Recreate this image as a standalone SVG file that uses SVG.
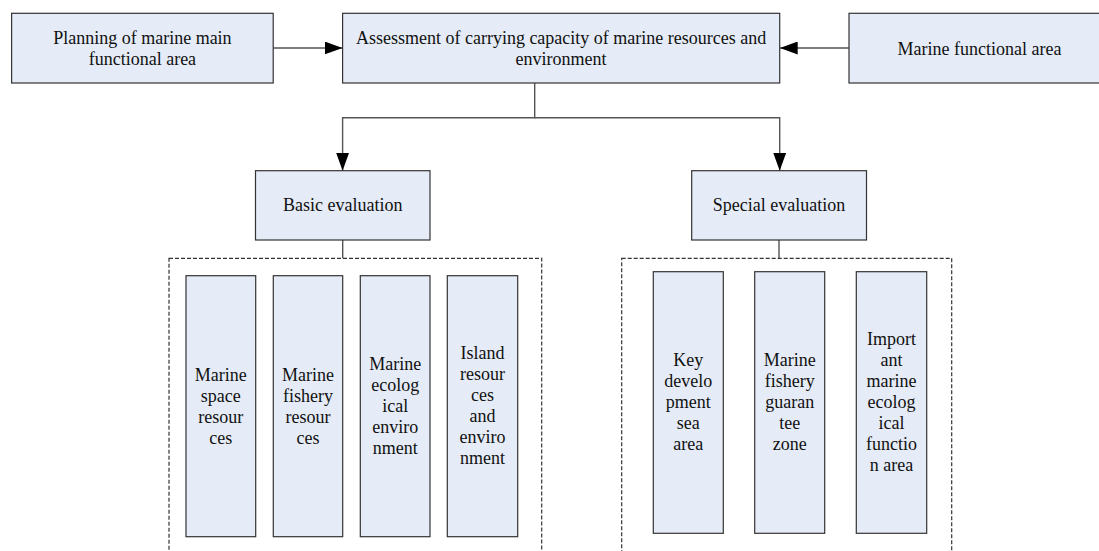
<svg xmlns="http://www.w3.org/2000/svg" width="1099" height="551" viewBox="0 0 1099 551">
<style>
.box{fill:#e5ecf7;stroke:#333;stroke-width:1.2}
.grp{fill:none;stroke:#333;stroke-width:1.2;stroke-dasharray:4 2}
.t{font-family:"Liberation Serif","Times New Roman",serif;font-size:18px;fill:#111;text-anchor:middle}
.c{fill:none;stroke:#555;stroke-width:1.4}
</style>
<defs>
<marker id="ah" markerUnits="userSpaceOnUse" markerWidth="18" markerHeight="13" refX="18" refY="6.5" orient="auto"><path d="M0,0 L18,6.5 L0,13 z" fill="#000"/></marker>
</defs>
<rect width="1099" height="551" fill="#fff"/>
<g id="connectors">
<path class="c" d="M273.2,48 H342.6" marker-end="url(#ah)"/>
<path class="c" d="M849,48 H779.7" marker-end="url(#ah)"/>
<path class="c" d="M534.7,83 V117.7 H342.6 V170.7" marker-end="url(#ah)"/>
<path class="c" d="M534.7,117.7 H779.7 V170.7" marker-end="url(#ah)"/>
<path class="c" d="M342.7,240 V258.3"/>
<path class="c" d="M779,240 V258.3"/>
</g>
<g id="planning">
<rect class="box" x="11.6" y="13.3" width="261.6" height="69.7"/>
<text class="t" x="142.4" y="43.5">Planning of marine main<tspan x="142.4" dy="21">functional area</tspan></text>
</g>
<g id="assessment">
<rect class="box" x="342.6" y="13.3" width="437.1" height="69.7"/>
<text class="t" x="561.1" y="43.5">Assessment of carrying capacity of marine resources and<tspan x="561.1" dy="21">environment</tspan></text>
</g>
<g id="functional">
<rect class="box" x="849" y="13.3" width="261" height="69.7"/>
<text class="t" x="979.5" y="54.5">Marine functional area</text>
</g>
<g id="basic">
<rect class="box" x="255.5" y="170.7" width="174.5" height="69.3"/>
<text class="t" x="342.7" y="211">Basic evaluation</text>
</g>
<g id="special">
<rect class="box" x="691.7" y="170.7" width="174.8" height="69.3"/>
<text class="t" x="779" y="211">Special evaluation</text>
</g>
<g id="basic-group"><rect class="grp" x="169" y="258.3" width="372.7" height="310"/></g>
<g id="special-group"><rect class="grp" x="621.7" y="258.3" width="330" height="310"/></g>
<g id="b1">
<rect class="box" x="186" y="275.7" width="69.7" height="261"/>
<text class="t" x="220.8" y="380.7">Marine<tspan x="220.8" dy="21">space</tspan><tspan x="220.8" dy="21">resour</tspan><tspan x="220.8" dy="21">ces</tspan></text>
</g>
<g id="b2">
<rect class="box" x="273.3" y="275.7" width="69.4" height="261"/>
<text class="t" x="308" y="380.7">Marine<tspan x="308" dy="21">fishery</tspan><tspan x="308" dy="21">resour</tspan><tspan x="308" dy="21">ces</tspan></text>
</g>
<g id="b3">
<rect class="box" x="360.3" y="275.7" width="69.7" height="261"/>
<text class="t" x="395.2" y="369.7">Marine<tspan x="395.2" dy="21">ecolog</tspan><tspan x="395.2" dy="21">ical</tspan><tspan x="395.2" dy="21">enviro</tspan><tspan x="395.2" dy="21">nment</tspan></text>
</g>
<g id="b4">
<rect class="box" x="447.3" y="275.7" width="70.4" height="261"/>
<text class="t" x="482.5" y="358.7">Island<tspan x="482.5" dy="21">resour</tspan><tspan x="482.5" dy="21">ces</tspan><tspan x="482.5" dy="21">and</tspan><tspan x="482.5" dy="21">enviro</tspan><tspan x="482.5" dy="21">nment</tspan></text>
</g>
<g id="s1">
<rect class="box" x="653.3" y="271.7" width="70" height="261.6"/>
<text class="t" x="688.3" y="365.5">Key<tspan x="688.3" dy="21">develo</tspan><tspan x="688.3" dy="21">pment</tspan><tspan x="688.3" dy="21">sea</tspan><tspan x="688.3" dy="21">area</tspan></text>
</g>
<g id="s2">
<rect class="box" x="754.7" y="271.7" width="70" height="261.6"/>
<text class="t" x="789.7" y="365.5">Marine<tspan x="789.7" dy="21">fishery</tspan><tspan x="789.7" dy="21">guaran</tspan><tspan x="789.7" dy="21">tee</tspan><tspan x="789.7" dy="21">zone</tspan></text>
</g>
<g id="s3">
<rect class="box" x="856.3" y="271.7" width="70.4" height="261.6"/>
<text class="t" x="891.5" y="344.5">Import<tspan x="891.5" dy="21">ant</tspan><tspan x="891.5" dy="21">marine</tspan><tspan x="891.5" dy="21">ecolog</tspan><tspan x="891.5" dy="21">ical</tspan><tspan x="891.5" dy="21">functio</tspan><tspan x="891.5" dy="21">n area</tspan></text>
</g>
</svg>
